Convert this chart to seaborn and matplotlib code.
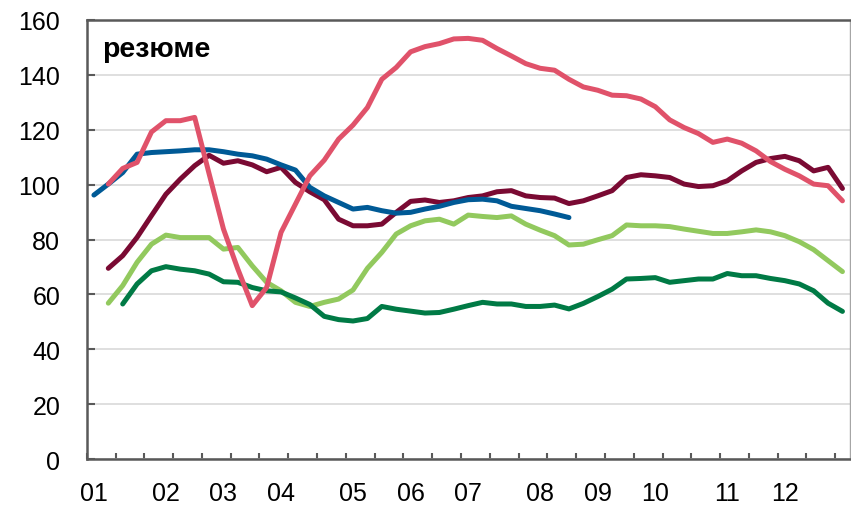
import numpy as np
import pandas as pd
import matplotlib
matplotlib.use("Agg")
import matplotlib.pyplot as plt
import seaborn as sns

nan = np.nan

# category index 0..52
x_idx = list(range(53))

# tick labels and the category where each label sits
tick_labels = ["01", "02", "03", "04", "05", "06", "07", "08", "09", "10", "11", "12"]
tick_pos = [0, 5, 9, 13, 18, 22, 26, 31, 35, 39, 44, 48]

blue = [96.2, 100.2, 104.4, 111.1, 111.7, 112.0, 112.3, 112.7, 112.7, 112.0,
        111.1, 110.5, 109.3, 107.2, 105.3, 99.0, 95.9, 93.5, 91.1, 91.7,
        90.5, 89.6, 89.9, 91.1, 92.1, 93.5, 94.5, 94.7, 94.1, 92.1,
        91.3, 90.5, 89.3, 88.0] + [nan] * 19

pink = [nan, 100.2, 105.9, 108.1, 119.2, 123.3, 123.3, 124.5, 104.0, 83.8,
        69.2, 55.9, 62.5, 82.6, 92.9, 103.2, 108.9, 116.6, 121.7, 128.1,
        138.4, 142.7, 148.4, 150.3, 151.4, 153.1, 153.3, 152.6, 149.6, 146.9,
        144.1, 142.4, 141.7, 138.4, 135.6, 134.4, 132.6, 132.4, 131.2, 128.4,
        123.6, 120.8, 118.6, 115.4, 116.6, 115.1, 112.3, 108.4, 105.6, 103.2,
        100.2, 99.6, 94.1]

maroon = [nan, 69.5, 74.1, 80.8, 88.7, 96.5, 102.0, 106.9, 110.7, 107.8,
          108.7, 107.2, 104.7, 106.3, 100.8, 97.4, 94.5, 87.4, 85.0, 85.0,
          85.6, 89.9, 93.9, 94.4, 93.5, 94.1, 95.3, 95.9, 97.4, 97.8,
          95.9, 95.3, 95.1, 93.1, 94.1, 95.9, 97.8, 102.6, 103.6, 103.2,
          102.6, 100.2, 99.3, 99.6, 101.4, 105.0, 108.1, 109.5, 110.3, 108.7,
          105.0, 106.3, 98.6]

light_green = [nan, 56.8, 63.2, 71.7, 78.3, 81.6, 80.7, 80.7, 80.7, 76.5,
               77.1, 70.4, 64.4, 61.3, 57.1, 55.6, 57.1, 58.3, 61.6, 69.5,
               75.3, 82.0, 85.0, 86.8, 87.4, 85.6, 88.9, 88.4, 88.0, 88.6,
               85.6, 83.4, 81.4, 78.0, 78.3, 79.9, 81.4, 85.3, 85.0, 85.0,
               84.7, 83.8, 83.0, 82.2, 82.2, 82.8, 83.5, 82.8, 81.4, 79.2,
               76.3, 72.3, 68.3]

dark_green = [nan, nan, 56.5, 63.8, 68.6, 70.1, 69.2, 68.6, 67.4, 64.6,
              64.4, 62.5, 61.3, 60.9, 58.7, 56.3, 52.0, 50.8, 50.3, 51.2,
              55.6, 54.6, 53.9, 53.2, 53.4, 54.6, 55.9, 57.1, 56.5, 56.5,
              55.6, 55.6, 56.1, 54.7, 56.7, 59.2, 61.9, 65.6, 65.8, 66.1,
              64.4, 65.0, 65.6, 65.6, 67.6, 66.8, 66.8, 65.8, 65.0, 63.8,
              61.3, 56.8, 53.8]

series = [
    ("light_green", light_green, "#92C95E"),
    ("dark_green", dark_green, "#007A45"),
    ("maroon", maroon, "#7A0A33"),
    ("blue", blue, "#005A96"),
    ("pink", pink, "#E0526A"),
]

sns.set_theme(style="white")
plt.rcParams["font.family"] = ["Liberation Sans", "DejaVu Sans"]

fig = plt.figure(figsize=(8.51, 5.06), dpi=100)
ax = fig.add_axes([0.1019, 0.0909, 0.8965, 0.8676])

for name, vals, col in series:
    df = pd.DataFrame({"x": x_idx, "y": vals}).dropna()
    sns.lineplot(data=df, x="x", y="y", ax=ax, color=col, linewidth=3.6,
                 solid_capstyle="round", solid_joinstyle="round", legend=False)

ax.set_xlim(-0.5, 52.5)
ax.set_ylim(0, 160)
ax.set_xlabel("")
ax.set_ylabel("")

ax.set_yticks(np.arange(0, 161, 20))
ax.yaxis.grid(True, color="#D9D9D9", linewidth=1.2)
ax.set_axisbelow(True)

ax.set_xticks(tick_pos)
ax.set_xticklabels(tick_labels)
ax.set_xticks(np.arange(-0.5, 52.6, 2), minor=True)
ax.tick_params(axis="x", which="major", length=0, pad=16, labelsize=18, colors="black")
ax.tick_params(axis="x", which="minor", direction="in", length=4, width=1.5, color="#595959", bottom=True)
ax.tick_params(axis="y", which="major", direction="in", length=6, width=1.5, color="#595959",
               left=True, pad=19, labelsize=18, labelcolor="black")

for side in ["left", "bottom", "top"]:
    ax.spines[side].set_color("#595959")
    ax.spines[side].set_linewidth(1.8)
ax.spines["right"].set_color("#A6A6A6")
ax.spines["right"].set_linewidth(1.0)

ax.text(0.0197, 0.917, "резюме", transform=ax.transAxes, fontsize=20.5,
        fontweight="bold", ha="left", va="baseline", color="black")

fig.savefig("out.png", dpi=100)
